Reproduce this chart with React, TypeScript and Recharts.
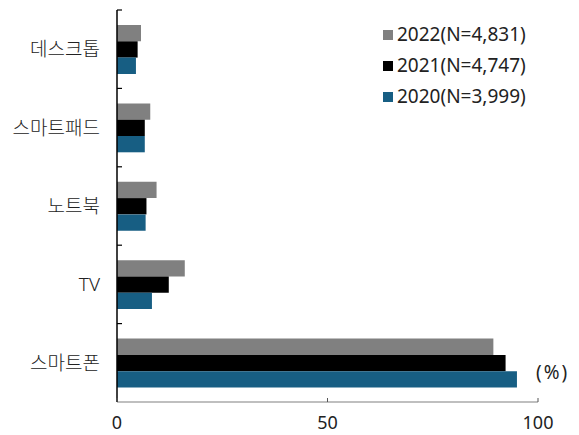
import { BarChart, Bar, XAxis, YAxis } from 'recharts'

const categories = ['데스크톱', '스마트패드', '노트북', 'TV', '스마트폰']
const y2022 = [5.7, 7.9, 9.4, 16.1, 89.4]
const y2021 = [4.9, 6.6, 7.0, 12.3, 92.3]
const y2020 = [4.5, 6.6, 6.8, 8.3, 95.0]
const xTicks = [0, 50, 100]

const SERIES = [
  { key: 'y2022', label: '2022(N=4,831)', color: '#808080' },
  { key: 'y2021', label: '2021(N=4,747)', color: '#000000' },
  { key: 'y2020', label: '2020(N=3,999)', color: '#175e83' },
]

const FONT = '"Noto Sans", "Noto Sans CJK KR", sans-serif'

const data = categories.map((name, i) => ({
  name,
  y2022: y2022[i],
  y2021: y2021[i],
  y2020: y2020[i],
}))

// category label plus a short tick at the top edge of each band
function CategoryTick(props: any) {
  const { x, y, payload } = props
  const half = payload?.offset ?? 39.25
  return (
    <g>
      <line x1={x} x2={x + 5} y1={y - half} y2={y - half} stroke="#000" strokeWidth={1.2} />
      <text x={x - 17} y={y} textAnchor="end" dominantBaseline="central" fontSize={19} fontWeight={300} fill="#222" fontFamily={FONT}>
        {payload.value}
      </text>
    </g>
  )
}

// value label with an inward tick mark
function ValueTick(props: any) {
  const { x, y, payload } = props
  return (
    <g>
      <line x1={x} x2={x} y1={y} y2={y - 4} stroke="#555" strokeWidth={1} />
      <text x={x} y={y + 20} textAnchor="middle" dominantBaseline="central" fontSize={18} fill="#222" fontFamily={FONT}>
        {payload.value}
      </text>
    </g>
  )
}

function LegendBox() {
  return (
    <div style={{ position: 'absolute', left: 383, top: 19, fontFamily: FONT, fontSize: 19, color: '#222', lineHeight: '31px' }}>
      {SERIES.map((s) => (
        <div key={s.key} style={{ display: 'flex', alignItems: 'center', whiteSpace: 'nowrap' }}>
          <span style={{ display: 'inline-block', width: 10, height: 10, background: s.color, marginRight: 4 }} />
          <span>{s.label}</span>
        </div>
      ))}
    </div>
  )
}

export default function App() {
  return (
    <div style={{ position: 'absolute', left: 0, top: 0, width: 579, height: 435, background: '#fff' }}>
      <BarChart
        width={579}
        height={435}
        data={data}
        layout="vertical"
        margin={{ top: 10, right: 41, bottom: 3, left: 0 }}
        barGap={0}
        barSize={16.3}
      >
        <XAxis
          type="number"
          domain={[0, 100]}
          ticks={xTicks}
          axisLine={{ stroke: '#808080', strokeWidth: 1.2 }}
          tickLine={false}
          tickSize={0}
          tickMargin={0}
          height={30}
          tick={<ValueTick />}
        />
        <YAxis
          type="category"
          dataKey="name"
          width={117}
          axisLine={{ stroke: '#000', strokeWidth: 1.5 }}
          tickLine={false}
          tickSize={0}
          tickMargin={0}
          tick={<CategoryTick />}
        />
        {SERIES.map((s) => (
          <Bar key={s.key} dataKey={s.key} name={s.label} fill={s.color} isAnimationActive={false} />
        ))}
      </BarChart>
      <LegendBox />
      <div style={{ position: 'absolute', left: 536, top: 359, fontFamily: FONT, fontSize: 19, color: '#222', letterSpacing: 2 }}>(%)</div>
    </div>
  )
}
